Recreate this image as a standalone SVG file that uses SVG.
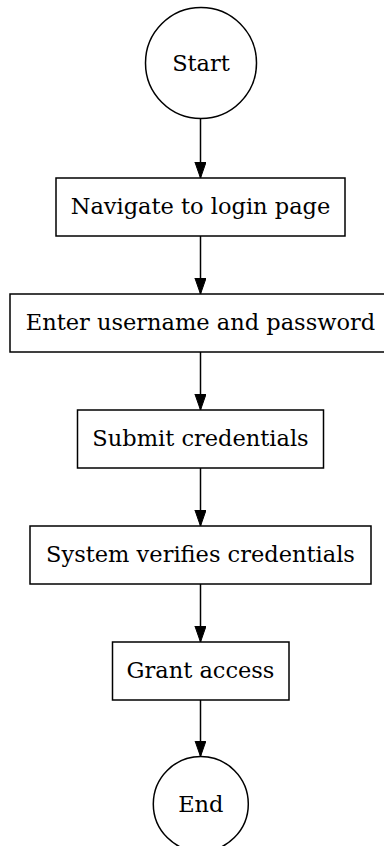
<svg xmlns="http://www.w3.org/2000/svg" width="384" height="846" viewBox="0 0 384 846">
<style>
.n{fill:#fff;stroke:#000;stroke-width:1.5}
.t{font-family:"DejaVu Serif",serif;font-size:22.5px;text-anchor:middle;fill:#000}
.e{stroke:#000;stroke-width:1.5;fill:none}
</style>
<defs>
<marker id="ah" markerUnits="userSpaceOnUse" markerWidth="17" markerHeight="12" refX="16" refY="5.6" orient="auto" viewBox="0 0 17 12">
<path d="M0,0 L16,5.6 L0,11.2 z" fill="#000" stroke="#000" stroke-width="1"/>
</marker>
</defs>
<rect width="384" height="846" fill="#fff"/>
<g id="connectors">
<line class="e" x1="200.5" y1="118.5" x2="200.5" y2="178" marker-end="url(#ah)"/>
<line class="e" x1="200.5" y1="236" x2="200.5" y2="294" marker-end="url(#ah)"/>
<line class="e" x1="200.5" y1="352" x2="200.5" y2="410" marker-end="url(#ah)"/>
<line class="e" x1="200.5" y1="468" x2="200.5" y2="526" marker-end="url(#ah)"/>
<line class="e" x1="200.5" y1="584" x2="200.5" y2="642" marker-end="url(#ah)"/>
<line class="e" x1="200.5" y1="700" x2="200.5" y2="756.5" marker-end="url(#ah)"/>
</g>
<g id="start">
<circle class="n" cx="201" cy="63" r="55.5"/>
<text class="t" x="201" y="70.5">Start</text>
</g>
<g id="navigate">
<rect class="n" x="56" y="178" width="289" height="58"/>
<text class="t" x="200.5" y="214">Navigate to login page</text>
</g>
<g id="enter">
<rect class="n" x="10" y="294" width="381" height="58"/>
<text class="t" x="200.5" y="330">Enter username and password</text>
</g>
<g id="submit">
<rect class="n" x="77.5" y="410" width="246" height="58"/>
<text class="t" x="200.5" y="446">Submit credentials</text>
</g>
<g id="verify">
<rect class="n" x="30" y="526" width="341" height="58"/>
<text class="t" x="200.5" y="562">System verifies credentials</text>
</g>
<g id="grant">
<rect class="n" x="112.5" y="642" width="176.5" height="58"/>
<text class="t" x="200.5" y="678">Grant access</text>
</g>
<g id="end">
<circle class="n" cx="200.8" cy="804" r="47.5"/>
<text class="t" x="200.8" y="812">End</text>
</g>
</svg>
